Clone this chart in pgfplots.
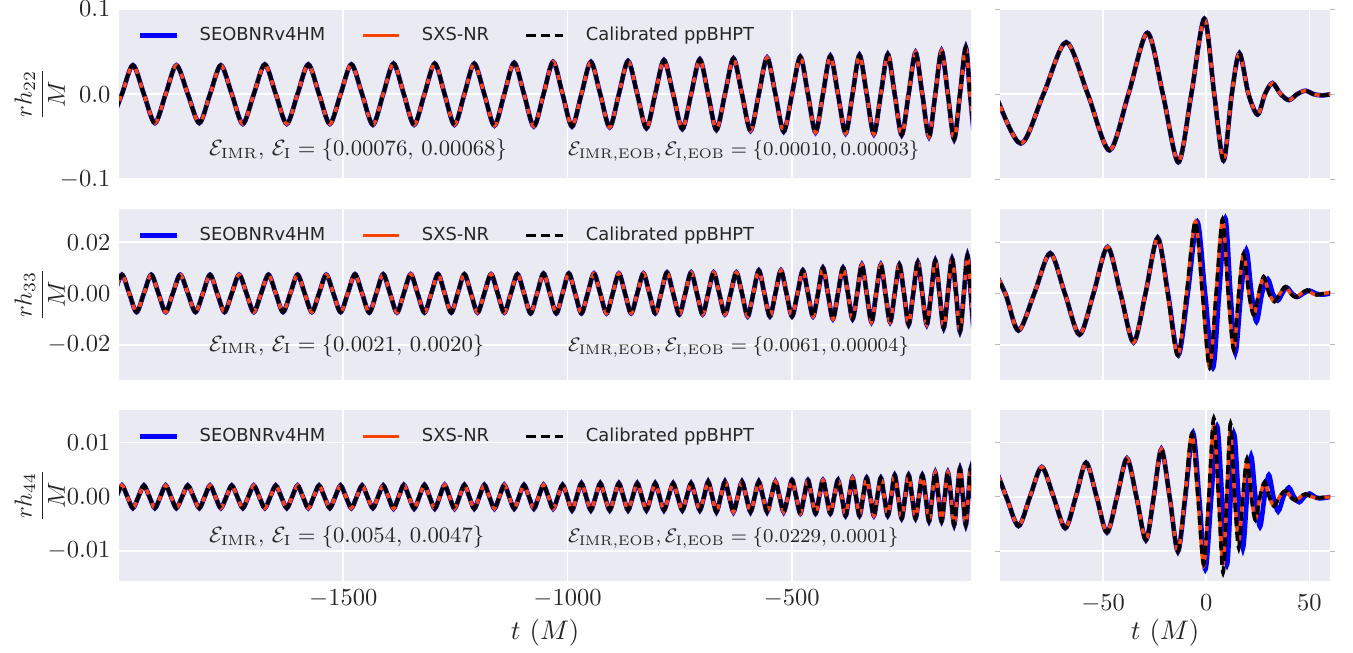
\documentclass[border=0pt]{standalone}
\usepackage{fontspec}
\usepackage{pgfplots}
\usepackage{pgfplotstable}
\pgfplotsset{compat=1.18}
\newfontfamily\dvs{DejaVu Sans}
\definecolor{bgc}{HTML}{EAEAF2}
\definecolor{txt}{HTML}{262626}
\definecolor{cseob}{HTML}{0000FF}
\definecolor{csxs}{HTML}{FF4500}

% ---------- (2,2) mode, whole time span ----------
\pgfplotstableread[row sep=\\]{t v\\
-2018 -0.034\\ -1993.5 0\\ -1969 0.034\\ -1944.5 0\\ -1920 -0.034\\ -1896 0\\ -1872 0.034\\ -1846.5 0\\
-1821 -0.034\\ -1797 0\\ -1773 0.034\\ -1748.5 0\\ -1724 -0.035\\ -1699.5 0\\ -1675 0.035\\ -1650.5 0\\
-1626 -0.035\\ -1602 0\\ -1578 0.035\\ -1554 0\\ -1530 -0.035\\ -1506 0\\ -1482 0.035\\ -1458 0\\
-1434 -0.036\\ -1411 0\\ -1388 0.036\\ -1365 0\\ -1342 -0.036\\ -1319 0\\ -1296 0.036\\ -1274 0\\
-1252 -0.036\\ -1230 0\\ -1208 0.036\\ -1185.5 0\\ -1163 -0.037\\ -1141 0\\ -1119 0.037\\ -1097 0\\
-1075 -0.038\\ -1053.5 0\\ -1032 0.038\\ -1011 0\\ -990 -0.038\\ -969 0\\ -948 0.038\\ -927 0\\
-906 -0.039\\ -885.5 0\\ -865 0.039\\ -844.5 0\\ -824 -0.040\\ -804.5 0\\ -785 0.040\\ -764.5 0\\
-744 -0.041\\ -724.5 0\\ -705 0.041\\ -686.5 0\\ -668 -0.042\\ -649 0\\ -630 0.042\\ -611 0\\
-592 -0.043\\ -573.5 0\\ -555 0.043\\ -536.5 0\\ -518 -0.044\\ -499.5 0\\ -481 0.044\\ -464 0\\
-447 -0.045\\ -430.5 0\\ -414 0.045\\ -397 0\\ -380 -0.046\\ -364.5 0\\ -349 0.046\\ -333 0\\
-317 -0.047\\ -301.5 0\\ -286 0.047\\ -270.5 0\\ -255 -0.048\\ -239.5 0\\ -224 0.049\\ -209 0\\
-194 -0.050\\ -180 0\\ -166 0.051\\ -152 0\\ -138 -0.053\\ -125 0\\ -112 0.055\\ -102.5 0\\
-90 -0.058\\ -79 0\\ -68 0.061\\ -57.5 0\\ -47 -0.066\\ -37.8 0\\ -28.6 0.072\\ -21.1 0\\
-13.6 -0.080\\ -7.3 0\\ -1 0.0886\\ 3.8 0\\ 8.3 -0.078\\ 12.3 0\\ 16 0.048\\ 20.4 0\\
24.8 -0.024\\ 28.4 0\\ 32 0.013\\ 36 0\\ 40 -0.007\\ 44 0\\ 48 0.004\\ 52 0\\ 56 -0.0015\\ 60.5 0\\
}\Ttt

% ---------- (3,3) mode, inspiral ----------
\pgfplotstableread[row sep=\\]{t v\\
-2009.8 0\\ -1993.5 0.0073\\ -1977.2 0\\ -1960.8 -0.0073\\ -1944.5 0\\ -1928.2 0.0073\\ -1912 0\\ -1896 -0.0073\\
-1880 0\\ -1863.5 0.0073\\ -1846.5 0\\ -1829.5 -0.0073\\ -1813 0\\ -1797 0.0073\\ -1781 0\\ -1764.8 -0.0073\\
-1748.5 0\\ -1732.2 0.0073\\ -1715.8 0\\ -1699.5 -0.0073\\ -1683.2 0\\ -1666.8 0.0073\\ -1650.5 0\\ -1634.2 -0.0073\\
-1618 0\\ -1602 0.0073\\ -1586 0\\ -1570 -0.0073\\ -1554 0\\ -1538 0.0073\\ -1522 0\\ -1506 -0.0073\\
-1490 0\\ -1474 0.0075\\ -1458 0\\ -1442 -0.0075\\ -1426.3 0\\ -1411 0.0075\\ -1395.7 0\\ -1380.3 -0.0075\\
-1365 0\\ -1349.7 0.0075\\ -1334.3 0\\ -1319 -0.0075\\ -1303.7 0\\ -1288.7 0.0075\\ -1274 0\\ -1259.3 -0.0075\\
-1244.7 0\\ -1230 0.0075\\ -1215.3 0\\ -1200.5 -0.0075\\ -1185.5 0\\ -1170.5 0.0075\\ -1155.7 0\\ -1141 -0.0075\\
-1126.3 0\\ -1111.7 0.0075\\ -1097 0\\ -1082.3 -0.0078\\ -1067.8 0\\ -1053.5 0.0078\\ -1039.2 0\\ -1025 -0.0078\\
-1011 0\\ -997 0.0078\\ -983 0\\ -969 -0.0078\\ -955 0\\ -941 0.0078\\ -927 0\\ -913 -0.0078\\
-899.2 0\\ -885.5 0.0078\\ -871.8 0\\ -858.2 -0.0078\\ -844.5 0\\ -830.8 0.0078\\ -817.5 0\\ -804.5 -0.0078\\
-791.5 0\\ -778.2 0.0082\\ -764.5 0\\ -750.8 -0.0082\\ -737.5 0\\ -724.5 0.0082\\ -711.5 0\\ -698.8 -0.0082\\
-686.5 0\\ -674.2 0.0082\\ -661.7 0\\ -649 -0.0082\\ -636.3 0\\ -623.7 0.0082\\ -611 0\\ -598.3 -0.0090\\
-585.8 0\\ -573.5 0.0090\\ -561.2 0\\ -548.8 -0.0090\\ -536.5 0\\ -524.2 0.0090\\ -511.8 0\\ -499.5 -0.0090\\
-487.2 0\\ -475.3 0.0090\\ -464 0\\ -452.7 -0.0090\\ -441.5 0\\ -430.5 0.0100\\ -419.5 0\\ -408.3 -0.0100\\
-397 0\\ -385.7 0.0100\\ -374.8 0\\ -364.5 -0.0100\\ -354.2 0\\ -343.7 0.0112\\ -333 0\\ -322.3 -0.0112\\
-311.8 0\\ -301.5 0.0112\\ -291.2 0\\ -280.8 -0.0112\\ -270.5 0\\ -260.2 0.0112\\ -249.8 0\\ -239.5 -0.0122\\
-229.2 0\\ -219 0.0122\\ -209 0\\ -199 -0.0122\\ -189.3 0\\ -180 0.0128\\ -170.7 0\\ -161.3 -0.0135\\
-152 0\\ -142.7 0.0135\\ -133.7 0\\ -125 -0.0148\\ -116.3 0\\ -108.3 0.0148\\ -101 0\\ -93.7 -0.0148\\ -86.3 0\\
}\Tth

% ---------- (4,4) mode, inspiral ----------
\pgfplotstableread[row sep=\\]{t v\\
-2018 -0.0021\\ -2005.75 0\\ -1993.5 0.0021\\ -1981.25 0\\ -1969 -0.0021\\ -1956.75 0\\ -1944.5 0.0021\\ -1932.25 0\\
-1920 -0.0021\\ -1908 0\\ -1896 0.0021\\ -1884 0\\ -1872 -0.0021\\ -1859.25 0\\ -1846.5 0.0021\\ -1833.75 0\\
-1821 -0.0021\\ -1809 0\\ -1797 0.0021\\ -1785 0\\ -1773 -0.0021\\ -1760.75 0\\ -1748.5 0.0021\\ -1736.25 0\\
-1724 -0.0021\\ -1711.75 0\\ -1699.5 0.0021\\ -1687.25 0\\ -1675 -0.0021\\ -1662.75 0\\ -1650.5 0.0021\\ -1638.25 0\\
-1626 -0.0021\\ -1614 0\\ -1602 0.0021\\ -1590 0\\ -1578 -0.0021\\ -1566 0\\ -1554 0.0021\\ -1542 0\\
-1530 -0.0021\\ -1518 0\\ -1506 0.0021\\ -1494 0\\ -1482 -0.0021\\ -1470 0\\ -1458 0.0021\\ -1446 0\\
-1434 -0.0021\\ -1422.5 0\\ -1411 0.0021\\ -1399.5 0\\ -1388 -0.0022\\ -1376.5 0\\ -1365 0.0022\\ -1353.5 0\\
-1342 -0.0022\\ -1330.5 0\\ -1319 0.0022\\ -1307.5 0\\ -1296 -0.0022\\ -1285 0\\ -1274 0.0022\\ -1263 0\\
-1252 -0.0022\\ -1241 0\\ -1230 0.0022\\ -1219 0\\ -1208 -0.0022\\ -1196.75 0\\ -1185.5 0.0022\\ -1174.25 0\\
-1163 -0.0022\\ -1152 0\\ -1141 0.0022\\ -1130 0\\ -1119 -0.0022\\ -1108 0\\ -1097 0.0022\\ -1086 0\\
-1075 -0.0022\\ -1064.25 0\\ -1053.5 0.0022\\ -1042.75 0\\ -1032 -0.0022\\ -1021.5 0\\ -1011 0.0022\\ -1000.5 0\\
-990 -0.0025\\ -979.5 0\\ -969 0.0025\\ -958.5 0\\ -948 -0.0025\\ -937.5 0\\ -927 0.0025\\ -916.5 0\\
-906 -0.0025\\ -895.75 0\\ -885.5 0.0025\\ -875.25 0\\ -865 -0.0025\\ -854.75 0\\ -844.5 0.0025\\ -834.25 0\\
-824 -0.0025\\ -814.25 0\\ -804.5 0.0025\\ -794.75 0\\ -785 -0.0025\\ -774.75 0\\ -764.5 0.0025\\ -754.25 0\\
-744 -0.0025\\ -734.25 0\\ -724.5 0.0025\\ -714.75 0\\ -705 -0.0025\\ -695.75 0\\ -686.5 0.0028\\ -677.25 0\\
-668 -0.0028\\ -658.5 0\\ -649 0.0028\\ -639.5 0\\ -630 -0.0028\\ -620.5 0\\ -611 0.0028\\ -601.5 0\\
-592 -0.0028\\ -582.75 0\\ -573.5 0.0028\\ -564.25 0\\ -555 -0.0028\\ -545.75 0\\ -536.5 0.0028\\ -527.25 0\\
-518 -0.0028\\ -508.75 0\\ -499.5 0.0031\\ -490.25 0\\ -481 -0.0031\\ -472.5 0\\ -464 0.0031\\ -455.5 0\\
-447 -0.0031\\ -438.75 0\\ -430.5 0.0031\\ -422.25 0\\ -414 -0.0031\\ -405.5 0\\ -397 0.0031\\ -388.5 0\\
-380 -0.0035\\ -372.25 0\\ -364.5 0.0035\\ -356.75 0\\ -349 -0.0035\\ -341 0\\ -333 0.0035\\ -325 0\\
-317 -0.0035\\ -309.25 0\\ -301.5 0.0035\\ -293.75 0\\ -286 -0.0035\\ -278.25 0\\ -270.5 0.0040\\ -262.75 0\\
-255 -0.0040\\ -247.25 0\\ -239.5 0.0040\\ -231.75 0\\ -224 -0.0040\\ -216.5 0\\ -209 0.0040\\ -201.5 0\\
-194 -0.0045\\ -187 0\\ -180 0.0045\\ -173 0\\ -166 -0.0045\\ -159 0\\ -152 0.0045\\ -145 0\\
-138 -0.0052\\ -131.5 0\\ -125 0.0052\\ -118.5 0\\ -112 -0.0052\\ -106.5 0\\ -101 0.0052\\ -95.5 0\\
-90 -0.0052\\ -84.5 0\\
}\Tfo

% ---------- (3,3) mode, merger: SXS-NR and ppBHPT ----------
\pgfplotstableread[row sep=\\]{t v\\
-106 0.0140\\ -97.5 0\\ -91.1 -0.0145\\ -83.4 0\\ -75.7 0.0157\\ -68.6 0\\ -61.5 -0.0161\\ -54.7 0\\
-47.9 0.0181\\ -41.6 0\\ -35.3 -0.0191\\ -29.5 0\\ -23.6 0.0217\\ -18.8 0\\ -13.9 -0.0241\\ -9.6 0\\
-5.3 0.0281\\ -1.9 0\\ 1.6 -0.0290\\ 4.75 0\\ 7.9 0.0290\\ 10.6 0\\ 13.3 -0.0220\\ 15.7 0\\
18.1 0.0155\\ 20.6 0\\ 23.0 -0.0084\\ 25.4 0\\ 27.8 0.0065\\ 30.4 0\\ 33.0 -0.0032\\ 35.7 0\\
38.3 0.0026\\ 40.8 0\\ 43.2 -0.0015\\ 46 0\\ 48.9 0.0013\\ 51.3 0\\ 53.7 -0.0006\\ 57 0\\ 60.5 0.0004\\
}\RtO

% ---------- (3,3) mode, merger: SEOBNRv4HM ----------
\pgfplotstableread[row sep=\\]{t v\\
-106 0.0140\\ -97.5 0\\ -91.1 -0.0145\\ -83.4 0\\ -75.7 0.0157\\ -68.6 0\\ -61.5 -0.0161\\ -54.7 0\\
-47.9 0.0181\\ -41.6 0\\ -35.3 -0.0191\\ -29.5 0\\ -23.6 0.0217\\ -18.6 0\\ -13.6 -0.0241\\ -9.0 0\\
-4.4 0.0280\\ -0.6 0\\ 3.2 -0.0290\\ 6.2 0\\ 9.2 0.0292\\ 11.7 0\\ 14.1 -0.0230\\ 16.8 0\\
19.4 0.0168\\ 21.9 0\\ 24.3 -0.0110\\ 27 0\\ 29.8 0.0055\\ 32.2 0\\ 34.6 -0.0028\\ 36.8 0\\
39 0.0023\\ 41.5 0\\ 44 -0.0014\\ 47 0\\ 50 0.0011\\ 53 0\\ 56 -0.0005\\ 60.5 0\\
}\RtB

% ---------- (4,4) mode, merger: SXS-NR ----------
\pgfplotstableread[row sep=\\]{t v\\
-109 0\\ -103 0.0050\\ -97 0\\ -91.1 -0.0054\\ -85.5 0\\ -79.8 0.0055\\ -74.1 0\\ -68.4 -0.0058\\
-63.3 0\\ -58.3 0.0063\\ -53.2 0\\ -48.2 -0.0066\\ -43.3 0\\ -38.5 0.0071\\ -33.9 0\\ -29.3 -0.0080\\
-25.5 0\\ -21.8 0.0088\\ -17.8 0\\ -13.8 -0.0101\\ -10.4 0\\ -7.0 0.0116\\ -4.1 0\\ -1.3 -0.0127\\
1.2 0\\ 3.6 0.0134\\ 5.9 0\\ 8.1 -0.0124\\ 9.9 0\\ 11.7 0.0125\\ 13.7 0\\ 15.7 -0.0081\\
17.7 0\\ 19.7 0.0066\\ 21.8 0\\ 23.8 -0.0041\\ 26 0\\ 28.2 0.0026\\ 30.5 0\\ 32.7 -0.0017\\
35.5 0\\ 38.3 0.0011\\ 40.8 0\\ 43.2 -0.0007\\ 45.6 0\\ 48 0.0005\\ 51 0\\ 53.7 -0.0002\\ 60.5 0\\
}\RfO

% ---------- (4,4) mode, merger: ppBHPT ----------
\pgfplotstableread[row sep=\\]{t v\\
-109 0\\ -103 0.0050\\ -97 0\\ -91.1 -0.0054\\ -85.5 0\\ -79.8 0.0055\\ -74.1 0\\ -68.4 -0.0058\\
-63.3 0\\ -58.3 0.0063\\ -53.2 0\\ -48.2 -0.0066\\ -43.3 0\\ -38.5 0.0071\\ -33.9 0\\ -29.3 -0.0080\\
-25.5 0\\ -21.8 0.0088\\ -17.8 0\\ -13.8 -0.0101\\ -10.4 0\\ -7.0 0.0116\\ -4.1 0\\ -1.3 -0.0124\\
1.2 0\\ 3.6 0.0145\\ 5.9 0\\ 8.1 -0.0140\\ 9.9 0\\ 11.7 0.0135\\ 13.7 0\\ 15.7 -0.0094\\
17.7 0\\ 19.7 0.0070\\ 21.8 0\\ 23.8 -0.0043\\ 26 0\\ 28.2 0.0027\\ 30.5 0\\ 32.7 -0.0017\\
35.5 0\\ 38.3 0.0011\\ 40.8 0\\ 43.2 -0.0007\\ 45.6 0\\ 48 0.0005\\ 51 0\\ 53.7 -0.0002\\ 60.5 0\\
}\RfK

% ---------- (4,4) mode, merger: SEOBNRv4HM ----------
\pgfplotstableread[row sep=\\]{t v\\
-109 0\\ -103 0.0050\\ -97 0\\ -91.1 -0.0054\\ -85.5 0\\ -79.8 0.0055\\ -74.1 0\\ -68.4 -0.0058\\
-63.3 0\\ -58.3 0.0063\\ -53.2 0\\ -48.2 -0.0066\\ -43.3 0\\ -38.5 0.0071\\ -33.9 0\\ -29.3 -0.0080\\
-25.5 0\\ -21.8 0.0088\\ -17.8 0\\ -13.8 -0.0101\\ -10.2 0\\ -6.5 0.0118\\ -3.5 0\\ -0.5 -0.0134\\
2.4 0\\ 5.2 0.0130\\ 7.6 0\\ 10 -0.0125\\ 11.8 0\\ 13.5 0.0115\\ 15.6 0\\ 17.7 -0.0095\\
19.7 0\\ 21.7 0.0075\\ 23.8 0\\ 26 -0.0055\\ 28.2 0\\ 30.3 0.0040\\ 32.5 0\\ 34.8 -0.0027\\
37.4 0\\ 40 0.0017\\ 42.5 0\\ 45 -0.0010\\ 47.5 0\\ 50 0.0006\\ 52.5 0\\ 55 -0.0003\\ 60.5 0\\
}\RfB

\tikzset{ann/.style={anchor=base west, inner sep=0pt, font=\fontsize{8.6}{10}\selectfont, text=txt},
         annb/.style={anchor=base west, inner sep=0pt, font=\fontsize{8.1}{10}\selectfont, text=txt}}

\pgfplotsset{
  panel/.style={scale only axis, anchor=north west,
    axis background/.style={fill=bgc}, axis line style={draw=none},
    grid=major, major grid style={white, line width=0.75pt},
    major tick length=0pt, tick label style={font=\normalsize, text=txt},
    label style={text=txt}, scaled ticks=false},
  lpanel/.style={panel, width=347.8pt, xmin=-2000, xmax=-100, xtick={-1500,-1000,-500},
    ylabel style={at={(axis description cs:-0.093,0.5)}, anchor=center},
    legend columns=3, legend cell align=left,
    legend style={draw=none, fill=none, at={(axis description cs:0.0211,0.845)}, anchor=west,
      font=\dvs\fontsize{7.3}{9}\selectfont, text=txt, inner sep=0pt,
      nodes={inner sep=0pt},
      /tikz/every odd column/.append style={column sep=8.5pt},
      /tikz/every even column/.append style={column sep=14.5pt}},
    legend image code/.code={\draw[##1] (0pt,0pt) -- (15pt,0pt);}},
  rpanel/.style={panel, width=134.7pt, xmin=-100, xmax=60, xtick={-50,0,50}, yticklabels={,,},
    major tick length=2pt, tick align=outside, xtick style={draw=none},
    ytick style={draw=gray!55, line width=0.4pt}},
  sA/.style={cseob, line width=1.9pt, smooth},
  sB/.style={csxs, line width=1.4pt, smooth},
  sC/.style={black, line width=1.5pt, dash pattern=on 3.7pt off 2.2pt, smooth},
  bottomx/.style={xlabel={$t\ (M)$}, xlabel style={at={(axis description cs:0.5,-0.305)}, anchor=center, font=\fontsize{11.4}{13}\selectfont}},
}

\begin{document}
\begin{tikzpicture}
\path[use as bounding box] (0,0) rectangle (552.2pt,-266.1pt);

% ===== row 1 : (2,2) =====
\begin{axis}[lpanel, at={(48.57pt,-3.67pt)}, height=69.5pt,
  ymin=-0.1, ymax=0.1, ytick={-0.1,0,0.1}, yticklabels={$-0.1$,$0.0$,$0.1$},
  xticklabels={,,}, ylabel={$\displaystyle\frac{rh_{22}}{M}$}]
\addplot[sA] table[x=t,y=v]{\Ttt}; \addlegendentry{SEOBNRv4HM}
\addplot[sB] table[x=t,y=v]{\Ttt}; \addlegendentry{SXS-NR}
\addplot[sC] table[x=t,y=v]{\Ttt}; \addlegendentry{Calibrated ppBHPT}
\node[ann] at (axis cs:-1800,-0.0726) {$\mathcal{E}_{\rm IMR},\, \mathcal{E}_{\rm I} = \{0.00076,\, 0.00068\}$};
\node[annb] at (axis cs:-1000,-0.0726) {$\mathcal{E}_{\rm IMR,EOB}, \mathcal{E}_{\rm I,EOB} = \{0.00010, 0.00003\}$};
\end{axis}
\begin{axis}[rpanel, at={(408.16pt,-3.67pt)}, height=69.5pt,
  ymin=-0.1, ymax=0.1, ytick={-0.1,0,0.1}, xticklabels={,,}]
\addplot[sA] table[x=t,y=v]{\Ttt};
\addplot[sB] table[x=t,y=v]{\Ttt};
\addplot[sC] table[x=t,y=v]{\Ttt};
\end{axis}

% ===== row 2 : (3,3) =====
\begin{axis}[lpanel, at={(48.57pt,-85.31pt)}, height=69.8pt,
  ymin=-0.0338, ymax=0.0329, ytick={-0.02,0,0.02}, yticklabels={$-0.02$,$0.00$,$0.02$},
  xticklabels={,,}, ylabel={$\displaystyle\frac{rh_{33}}{M}$}]
\addplot[sA] table[x=t,y=v]{\Tth}; \addlegendentry{SEOBNRv4HM}
\addplot[sB] table[x=t,y=v]{\Tth}; \addlegendentry{SXS-NR}
\addplot[sC] table[x=t,y=v]{\Tth}; \addlegendentry{Calibrated ppBHPT}
\node[ann] at (axis cs:-1800,-0.0226) {$\mathcal{E}_{\rm IMR},\, \mathcal{E}_{\rm I} = \{0.0021,\, 0.0020\}$};
\node[annb] at (axis cs:-1000,-0.0226) {$\mathcal{E}_{\rm IMR,EOB}, \mathcal{E}_{\rm I,EOB} = \{0.0061, 0.00004\}$};
\end{axis}
\begin{axis}[rpanel, at={(408.16pt,-85.31pt)}, height=69.8pt,
  ymin=-0.0338, ymax=0.0329, ytick={-0.02,0,0.02}, xticklabels={,,}]
\addplot[sA] table[x=t,y=v]{\RtB};
\addplot[sB] table[x=t,y=v]{\RtO};
\addplot[sC] table[x=t,y=v]{\RtO};
\end{axis}

% ===== row 3 : (4,4) =====
\begin{axis}[lpanel, bottomx, at={(48.57pt,-167.35pt)}, height=69.8pt,
  ymin=-0.01555, ymax=0.016, ytick={-0.01,0,0.01}, yticklabels={$-0.01$,$0.00$,$0.01$},
  xticklabels={$-1500$,$-1000$,$-500$}, ylabel={$\displaystyle\frac{rh_{44}}{M}$}]
\addplot[sA] table[x=t,y=v]{\Tfo}; \addlegendentry{SEOBNRv4HM}
\addplot[sB] table[x=t,y=v]{\Tfo}; \addlegendentry{SXS-NR}
\addplot[sC] table[x=t,y=v]{\Tfo}; \addlegendentry{Calibrated ppBHPT}
\node[ann] at (axis cs:-1800,-0.0085) {$\mathcal{E}_{\rm IMR},\, \mathcal{E}_{\rm I} = \{0.0054,\, 0.0047\}$};
\node[annb] at (axis cs:-1000,-0.0085) {$\mathcal{E}_{\rm IMR,EOB}, \mathcal{E}_{\rm I,EOB} = \{0.0229, 0.0001\}$};
\end{axis}
\begin{axis}[rpanel, bottomx, at={(408.16pt,-167.35pt)}, height=69.8pt,
  ymin=-0.01555, ymax=0.016, ytick={-0.01,0,0.01}, xticklabels={$-50$,$0$,$50$}]
\addplot[sA] table[x=t,y=v]{\RfB};
\addplot[sB] table[x=t,y=v]{\RfO};
\addplot[sC] table[x=t,y=v]{\RfK};
\end{axis}
\end{tikzpicture}
\end{document}
